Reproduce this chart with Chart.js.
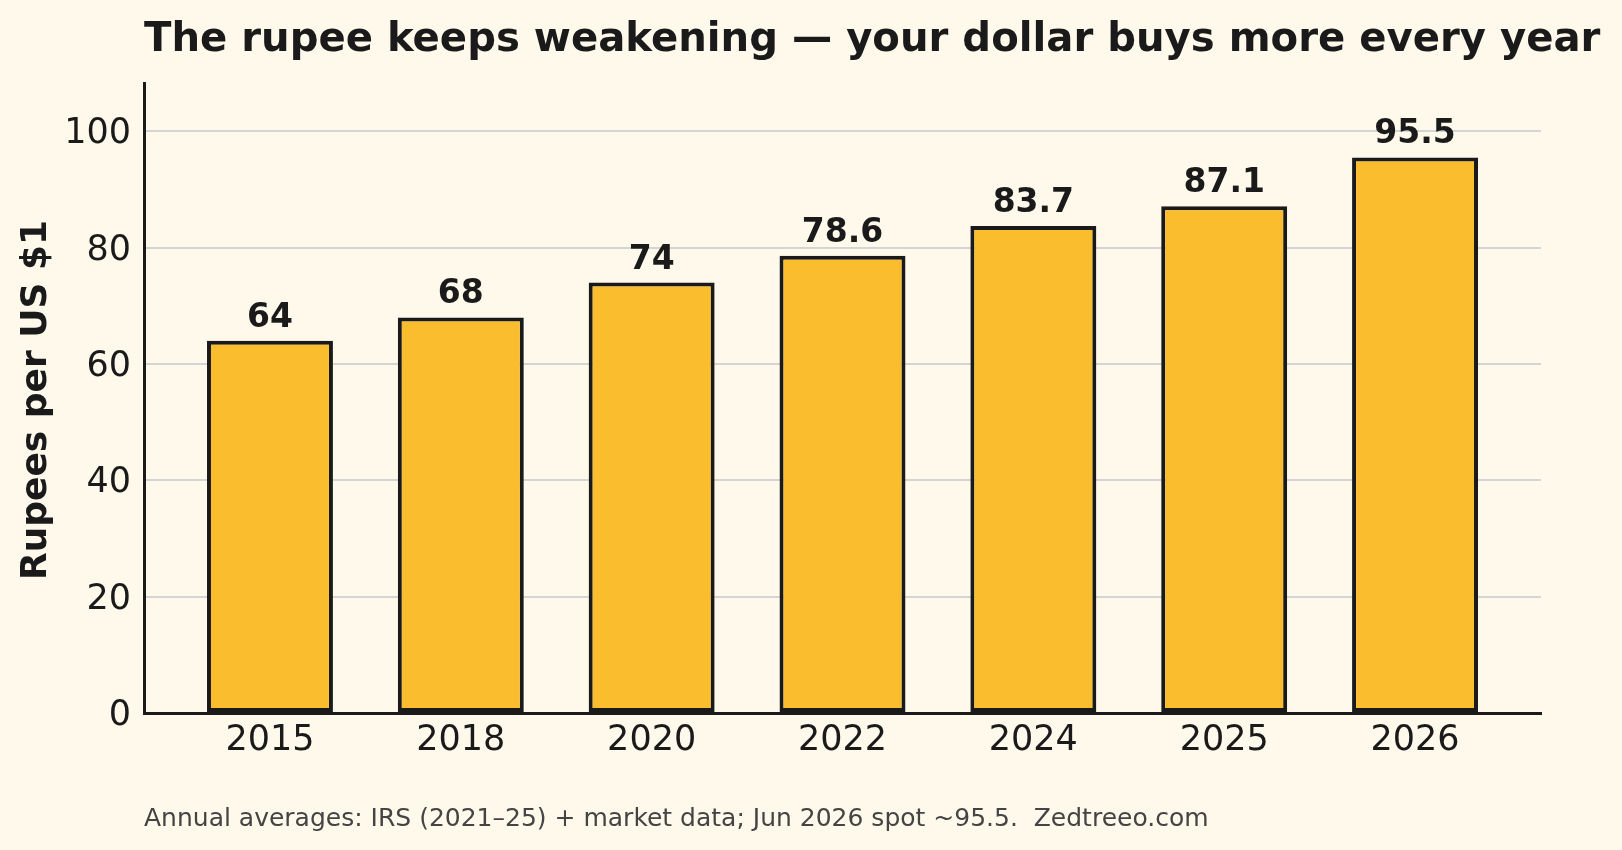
<!DOCTYPE html>
<html>
<head>
<meta charset="utf-8">
<script src="https://cdn.jsdelivr.net/npm/chart.js@4.4.1/dist/chart.umd.min.js"></script>
<style>
  html, body { margin: 0; padding: 0; background: #fff9ec; }
  #wrap { width: 1622px; height: 850px; }
</style>
</head>
<body>
<div id="wrap"><canvas id="rupee" width="1622" height="850"></canvas></div>
<script>
const years = ['2015', '2018', '2020', '2022', '2024', '2025', '2026'];
const rupeesPerDollar = [64, 68, 74, 78.6, 83.7, 87.1, 95.5];
const yTicks = [0, 20, 40, 60, 80, 100];

const titleText = 'The rupee keeps weakening \u2014 your dollar buys more every year';
const yLabelText = 'Rupees per US $1';
const noteText = 'Annual averages: IRS (2021\u201325) + market data; Jun 2026 spot ~95.5.  Zedtreeo.com';

const ink = '#1a1a1a';
const font = '"DejaVu Sans", sans-serif';

// title, y label, footnote and the value over each bar
const textPlugin = {
  id: 'texts',
  afterDatasetsDraw(chart) {
    const { ctx, scales: { x, y } } = chart;
    ctx.save();
    ctx.fillStyle = ink;
    ctx.textAlign = 'center';
    ctx.textBaseline = 'alphabetic';
    ctx.font = 'bold 33px ' + font;
    rupeesPerDollar.forEach((v, i) => {
      ctx.fillText(String(v), x.getPixelForValue(i), y.getPixelForValue(v) - 14);
    });
    ctx.restore();
  },
  afterDraw(chart) {
    const { ctx, chartArea } = chart;
    ctx.save();
    ctx.fillStyle = ink;
    ctx.textBaseline = 'middle';
    ctx.textAlign = 'left';
    ctx.font = 'bold 40.2px ' + font;
    ctx.fillText(titleText, chartArea.left, 41);

    ctx.fillStyle = '#444444';
    ctx.font = '25px ' + font;
    ctx.fillText(noteText, chartArea.left, 819);

    ctx.fillStyle = ink;
    ctx.font = 'bold 36px ' + font;
    ctx.textAlign = 'center';
    ctx.translate(37, 400);
    ctx.rotate(-Math.PI / 2);
    ctx.fillText(yLabelText, 0, 0);
    ctx.restore();
  }
};

new Chart(document.getElementById('rupee').getContext('2d'), {
  type: 'bar',
  data: {
    datasets: [{
      data: rupeesPerDollar.map((v, i) => ({ x: i, y: v })),
      backgroundColor: '#f9bd2d',
      borderColor: ink,
      borderWidth: 4,
      borderSkipped: false,
      barPercentage: 0.66,
      categoryPercentage: 1,
    }],
  },
  options: {
    responsive: false,
    animation: false,
    devicePixelRatio: 1,
    layout: { padding: { top: 83, right: 81, left: 0, bottom: 0 } },
    plugins: {
      legend: { display: false },
      tooltip: { enabled: false },
      title: { display: false },
    },
    scales: {
      x: {
        type: 'linear',
        offset: false,
        min: -0.66,
        max: 6.66,
        afterFit(scale) { scale.height = 137; },
        afterBuildTicks(scale) { scale.ticks = years.map((_, i) => ({ value: i })); },
        grid: { display: false, drawTicks: false, offset: false },
        border: { display: true, color: ink, width: 3 },
        ticks: {
          color: ink,
          padding: 7,
          font: { family: font, size: 35 },
          callback: (v) => years[v],
          maxRotation: 0,
          autoSkip: false,
        },
      },
      y: {
        min: 0,
        max: 108.3,
        afterFit(scale) { scale.width = 144; },
        afterBuildTicks(scale) { scale.ticks = yTicks.map((v) => ({ value: v })); },
        grid: { color: '#d4d4d4', lineWidth: 2, drawTicks: false },
        border: { display: true, color: ink, width: 3 },
        ticks: {
          color: ink,
          padding: 13,
          labelOffset: 3,
          font: { family: font, size: 35 },
        },
      },
    },
  },
  plugins: [textPlugin],
});
</script>
</body>
</html>
